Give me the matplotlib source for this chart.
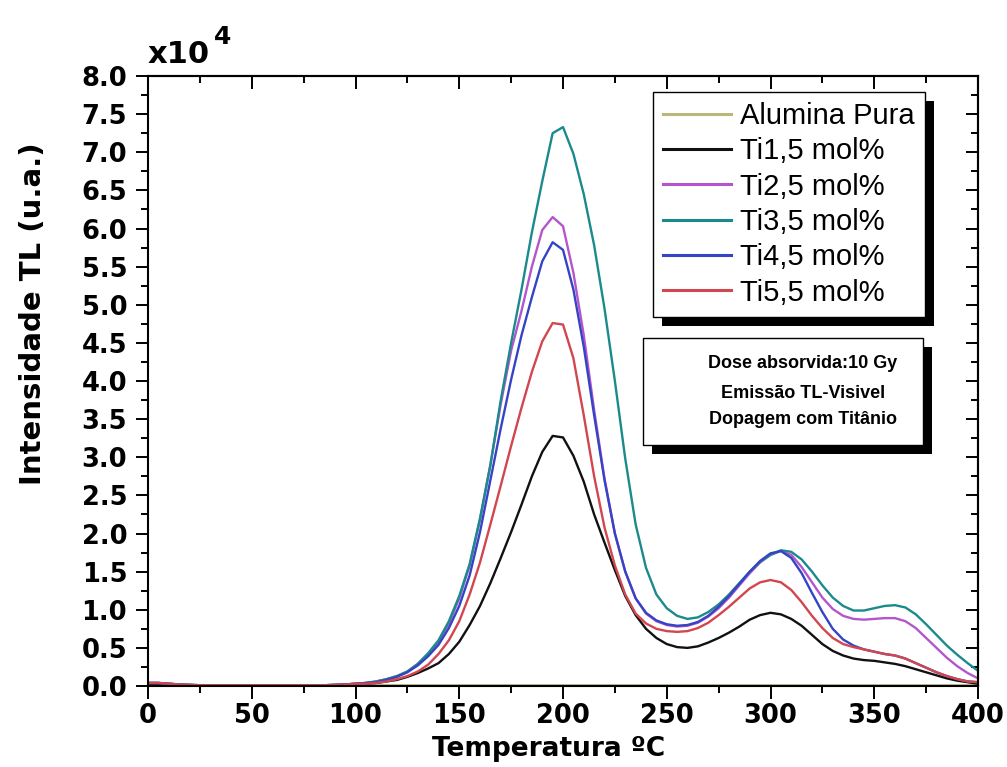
import matplotlib
matplotlib.use("Agg")
import matplotlib.pyplot as plt
from matplotlib.patches import Rectangle
from matplotlib.ticker import MultipleLocator, FormatStrFormatter, NullFormatter

# Temperature grid (°C) and TL intensity (x10^4 u.a.) for each sample
temperatura = list(range(0, 405, 5))

alumina_pura = [0.02, 0.02, 0.015, 0.01, 0.01, 0.01, 0.01, 0.01, 0.01, 0.01,
                0.01, 0.01, 0.01, 0.01, 0.01, 0.01, 0.01, 0.01, 0.01, 0.01,
                0.01, 0.01, 0.01, 0.01, 0.01, 0.01, 0.01, 0.01, 0.01, 0.01,
                0.01, 0.01, 0.01, 0.01, 0.01, 0.01, 0.01, 0.01, 0.01, 0.01,
                0.01, 0.01, 0.01, 0.01, 0.01, 0.01, 0.01, 0.01, 0.01, 0.01,
                0.01, 0.01, 0.01, 0.01, 0.01, 0.01, 0.01, 0.01, 0.01, 0.01,
                0.01, 0.01, 0.01, 0.01, 0.01, 0.01, 0.01, 0.01, 0.01, 0.01,
                0.01, 0.01, 0.01, 0.01, 0.01, 0.01, 0.01, 0.01, 0.01, 0.01,
                0.01]

ti_1_5 = [0.02, 0.02, 0.02, 0.01, 0.01, 0.01, 0.01, 0.01, 0.01, 0.01,
          0.01, 0.01, 0.01, 0.01, 0.01, 0.01, 0.01, 0.01, 0.01, 0.015,
          0.02, 0.03, 0.04, 0.06, 0.08, 0.12, 0.17, 0.23, 0.30, 0.42,
          0.58, 0.80, 1.05, 1.35, 1.68, 2.02, 2.38, 2.75, 3.07, 3.28,
          3.26, 3.02, 2.68, 2.25, 1.88, 1.52, 1.18, 0.93, 0.75, 0.63,
          0.55, 0.51, 0.50, 0.52, 0.57, 0.63, 0.70, 0.78, 0.87, 0.93,
          0.96, 0.94, 0.88, 0.79, 0.67, 0.55, 0.46, 0.40, 0.36, 0.34,
          0.33, 0.31, 0.29, 0.26, 0.22, 0.18, 0.14, 0.10, 0.07, 0.05,
          0.03]

ti_2_5 = [0.04, 0.04, 0.03, 0.02, 0.015, 0.01, 0.01, 0.01, 0.01, 0.01,
          0.01, 0.01, 0.01, 0.01, 0.01, 0.01, 0.01, 0.01, 0.015, 0.02,
          0.03, 0.04, 0.06, 0.09, 0.13, 0.19, 0.29, 0.42, 0.58, 0.82,
          1.15, 1.58, 2.18, 2.90, 3.70, 4.40, 4.92, 5.50, 5.98, 6.15,
          6.03, 5.42, 4.60, 3.62, 2.72, 2.00, 1.50, 1.15, 0.95, 0.85,
          0.80, 0.78, 0.79, 0.83, 0.91, 1.02, 1.16, 1.32, 1.48, 1.62,
          1.72, 1.77, 1.72, 1.56, 1.36, 1.16, 1.01, 0.92, 0.88, 0.87,
          0.88, 0.89, 0.89, 0.85, 0.76, 0.63, 0.50, 0.37, 0.26, 0.17,
          0.10]

ti_3_5 = [0.04, 0.04, 0.03, 0.02, 0.015, 0.01, 0.01, 0.01, 0.01, 0.01,
          0.01, 0.01, 0.01, 0.01, 0.01, 0.01, 0.01, 0.01, 0.015, 0.02,
          0.03, 0.04, 0.06, 0.09, 0.13, 0.19, 0.29, 0.43, 0.60, 0.85,
          1.18, 1.60, 2.20, 2.90, 3.75, 4.50, 5.20, 5.95, 6.62, 7.25,
          7.33, 6.98, 6.45, 5.78, 4.95, 4.00, 2.98, 2.12, 1.55, 1.20,
          1.02, 0.92, 0.88, 0.90, 0.97, 1.07, 1.20, 1.35, 1.50, 1.63,
          1.72, 1.78, 1.76, 1.66, 1.50, 1.32, 1.16, 1.05, 0.99, 0.99,
          1.02, 1.05, 1.06, 1.03, 0.94, 0.81, 0.67, 0.53, 0.41, 0.30,
          0.20]

ti_4_5 = [0.04, 0.04, 0.03, 0.02, 0.015, 0.01, 0.01, 0.01, 0.01, 0.01,
          0.01, 0.01, 0.01, 0.01, 0.01, 0.01, 0.01, 0.01, 0.015, 0.02,
          0.03, 0.04, 0.05, 0.08, 0.12, 0.18, 0.27, 0.39, 0.54, 0.76,
          1.05, 1.45, 2.02, 2.70, 3.38, 4.02, 4.60, 5.10, 5.57, 5.82,
          5.72, 5.20, 4.45, 3.55, 2.70, 2.00, 1.50, 1.15, 0.96, 0.86,
          0.81, 0.79, 0.80, 0.84, 0.92, 1.04, 1.18, 1.34, 1.50, 1.64,
          1.74, 1.77, 1.68, 1.48, 1.22, 0.97, 0.75, 0.61, 0.53, 0.48,
          0.45, 0.42, 0.40, 0.36, 0.30, 0.24, 0.18, 0.13, 0.09, 0.06,
          0.05]

ti_5_5 = [0.04, 0.04, 0.03, 0.02, 0.015, 0.01, 0.01, 0.01, 0.01, 0.01,
          0.01, 0.01, 0.01, 0.01, 0.01, 0.01, 0.01, 0.01, 0.015, 0.02,
          0.03, 0.03, 0.04, 0.06, 0.09, 0.13, 0.19, 0.28, 0.42, 0.60,
          0.85, 1.20, 1.62, 2.12, 2.63, 3.15, 3.65, 4.12, 4.52, 4.76,
          4.74, 4.30, 3.55, 2.75, 2.08, 1.58, 1.20, 0.95, 0.82, 0.75,
          0.72, 0.71, 0.72, 0.76, 0.83, 0.93, 1.04, 1.16, 1.28, 1.36,
          1.39, 1.36, 1.26, 1.10, 0.92, 0.76, 0.63, 0.55, 0.51, 0.48,
          0.45, 0.42, 0.40, 0.36, 0.30, 0.24, 0.18, 0.13, 0.09, 0.06,
          0.05]

series = [
    ("Alumina Pura", alumina_pura, "#b9b87a"),
    ("Ti1,5 mol%", ti_1_5, "#111111"),
    ("Ti2,5 mol%", ti_2_5, "#b455cc"),
    ("Ti3,5 mol%", ti_3_5, "#1b8a8c"),
    ("Ti4,5 mol%", ti_4_5, "#3444c4"),
    ("Ti5,5 mol%", ti_5_5, "#d2464f"),
]

bold_font = "DejaVu Sans"

fig = plt.figure(figsize=(10.07, 7.67), dpi=100)
ax = fig.add_axes([0.147, 0.1056, 0.8242, 0.7953])

for label, values, color in series:
    ax.plot(temperatura, values, color=color, lw=1.7, label=label,
            solid_joinstyle="round")

ax.set_xlim(0, 400)
ax.set_ylim(0, 8.0)

ax.xaxis.set_major_locator(MultipleLocator(50))
ax.xaxis.set_minor_locator(MultipleLocator(25))
ax.yaxis.set_major_locator(MultipleLocator(0.5))
ax.yaxis.set_minor_locator(MultipleLocator(0.25))
ax.yaxis.set_major_formatter(FormatStrFormatter("%.1f"))

ax.tick_params(which="both", direction="out", top=False, right=False,
               width=1.4, colors="black")
ax.tick_params(which="major", length=9)
ax.tick_params(which="minor", length=5)
ax.tick_params(axis="y", which="major", pad=6)
ax.tick_params(axis="x", which="major", pad=3)

for lab in ax.get_xticklabels() + ax.get_yticklabels():
    lab.set_fontfamily(bold_font)
    lab.set_fontweight("bold")
    lab.set_fontsize(18.5)

for sp in ax.spines.values():
    sp.set_linewidth(1.5)

# inward ticks on the top and right frame
sec_x = ax.secondary_xaxis("top")
sec_x.xaxis.set_major_locator(MultipleLocator(50))
sec_x.xaxis.set_minor_locator(MultipleLocator(25))
sec_x.xaxis.set_major_formatter(NullFormatter())
sec_x.tick_params(which="both", direction="in", width=1.4)
sec_x.tick_params(which="major", length=9)
sec_x.tick_params(which="minor", length=5)
sec_x.spines["top"].set_linewidth(1.5)

sec_y = ax.secondary_yaxis("right")
sec_y.yaxis.set_major_locator(MultipleLocator(0.5))
sec_y.yaxis.set_minor_locator(MultipleLocator(0.25))
sec_y.yaxis.set_major_formatter(NullFormatter())
sec_y.tick_params(which="both", direction="in", width=1.4)
sec_y.tick_params(which="major", length=9)
sec_y.tick_params(which="minor", length=5)
sec_y.spines["right"].set_linewidth(1.5)

ax.set_xlabel("Temperatura ºC", fontfamily=bold_font, fontweight="bold",
              fontsize=19, va="top")
ax.xaxis.set_label_coords(0.483, -0.082)
ax.set_ylabel("Intensidade TL (u.a.)", fontfamily=bold_font,
              fontweight="bold", fontsize=21)
ax.yaxis.set_label_coords(-0.122, 0.61)

# axis multiplier
fig.text(0.147, 0.918, "x10", fontfamily=bold_font, fontweight="bold",
         fontsize=22, va="baseline", ha="left")
fig.text(0.212, 0.943, "4", fontfamily=bold_font, fontweight="bold",
         fontsize=18, va="baseline", ha="left")

leg = ax.legend(loc="upper right", bbox_to_anchor=(0.936, 0.974),
                prop={"family": "Liberation Sans", "size": 21},
                frameon=True, fancybox=False, framealpha=1,
                edgecolor="black", handlelength=2.33, handletextpad=0.3,
                labelspacing=0.25, borderpad=0.35, borderaxespad=0)
leg.get_frame().set_linewidth(1.0)
for h in leg.get_lines():
    h.set_linewidth(2.2)
leg.set_zorder(6)

# drop shadow for the legend box
fig.canvas.draw()
bb = leg.get_window_extent()
inv = ax.transAxes.inverted()
(x0, y0), (x1, y1) = inv.transform([[bb.x0 + 9, bb.y0 - 9], [bb.x1 + 9, bb.y1 - 9]])
ax.add_patch(Rectangle((x0, y0), x1 - x0, y1 - y0, transform=ax.transAxes,
                       facecolor="black", edgecolor="none", zorder=5,
                       clip_on=False))

# annotation box with its shadow
bx0, bx1 = 0.5964, 0.9337
by0, by1 = 0.3951, 0.5705
dx, dy = 9 / 830, 9 / 610
ax.add_patch(Rectangle((bx0 + dx, by0 - dy), bx1 - bx0, by1 - by0,
                       transform=ax.transAxes, facecolor="black",
                       edgecolor="none", zorder=5, clip_on=False))
ax.add_patch(Rectangle((bx0, by0), bx1 - bx0, by1 - by0,
                       transform=ax.transAxes, facecolor="white",
                       edgecolor="black", lw=1.0, zorder=6, clip_on=False))
info_lines = ["Dose absorvida:10 Gy", "Emissão TL-Visivel", "Dopagem com Titânio"]
info_y = [0.5295, 0.4803, 0.4361]
for txt, yy in zip(info_lines, info_y):
    ax.text(0.789, yy, txt, transform=ax.transAxes, ha="center", va="center",
            fontfamily="Liberation Sans", fontweight="bold", fontsize=13,
            zorder=7)

fig.savefig("out.png", dpi=100)
